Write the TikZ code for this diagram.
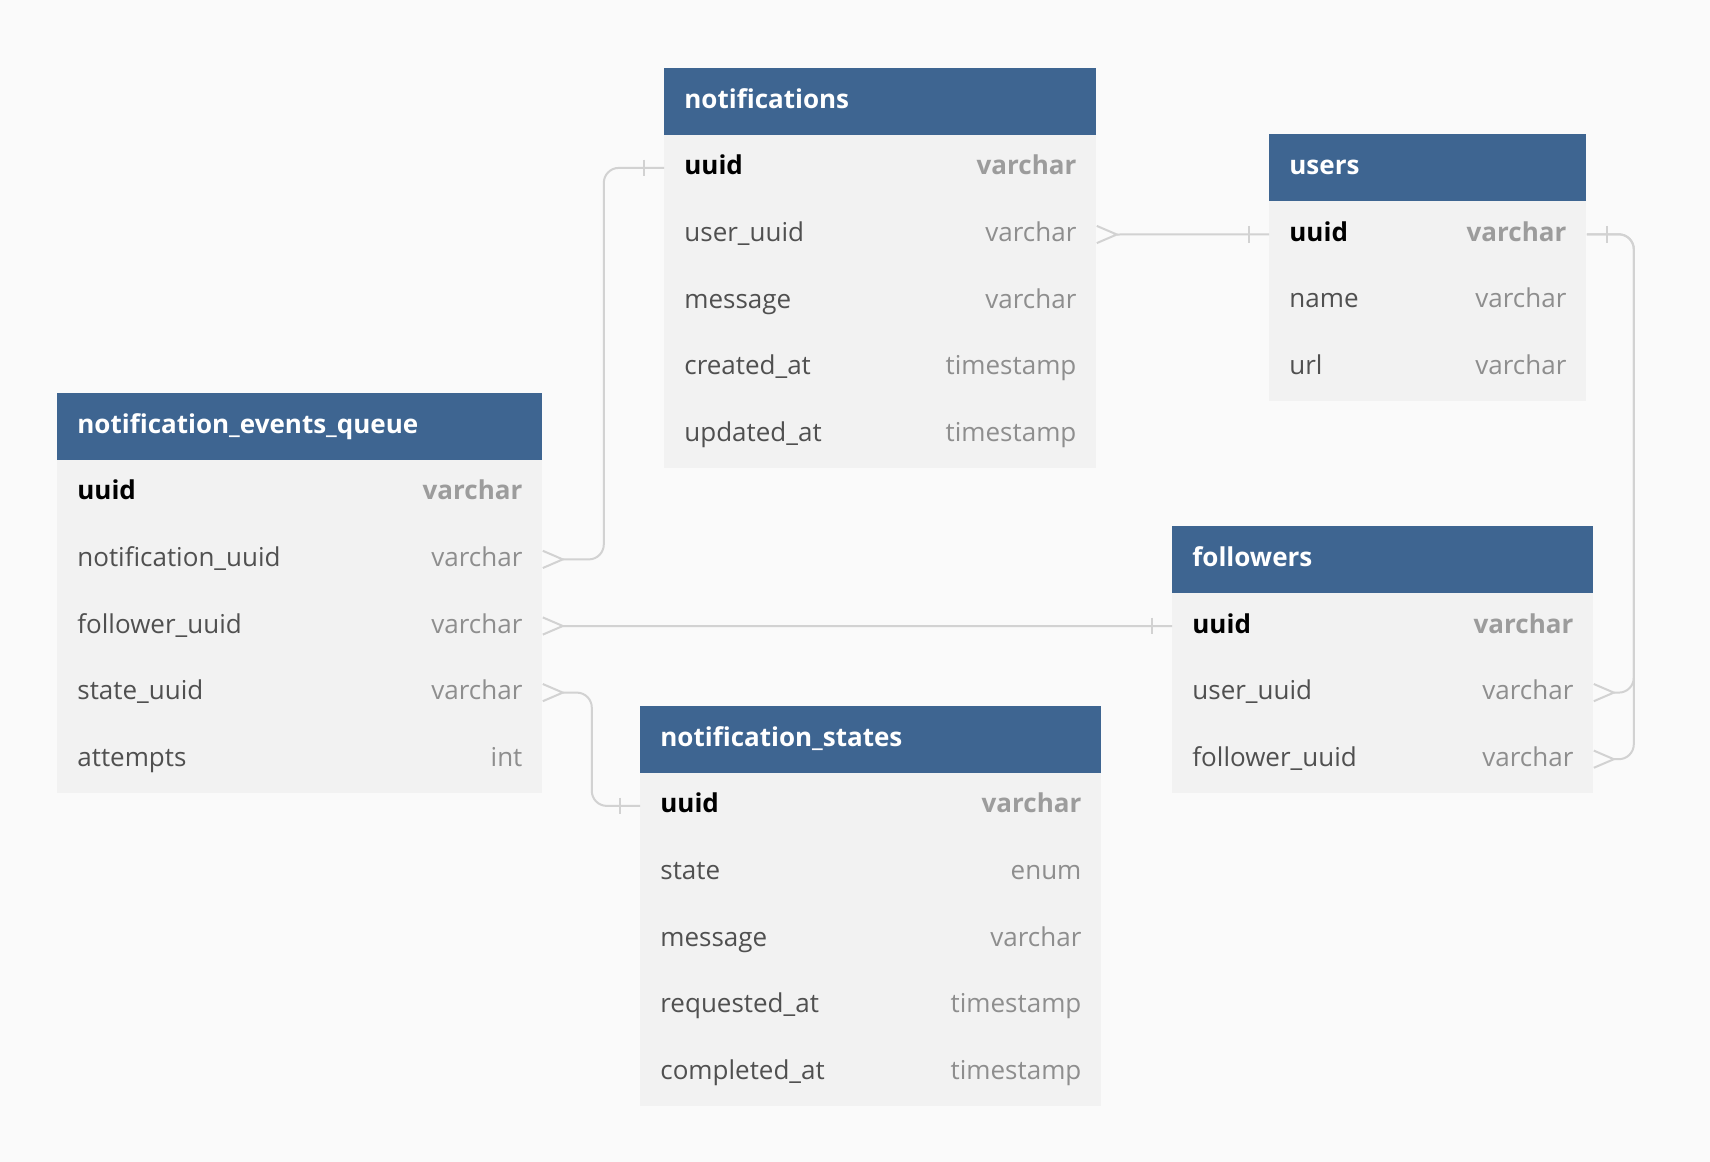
\documentclass[tikz,border=0pt]{standalone}
\usepackage{fontspec}
\setmainfont{Open Sans}
\usetikzlibrary{calc}
\definecolor{pagebg}{HTML}{FAFAFA}
\definecolor{hdrblue}{HTML}{3E6591}
\definecolor{rowbg}{HTML}{F2F2F2}
\definecolor{colname}{HTML}{505050}
\definecolor{coltype}{HTML}{8E8E8E}
\definecolor{pktype}{HTML}{9C9C9C}
\definecolor{linkgray}{HTML}{D2D2D2}

\tikzset{
  hdrbox/.style={fill=hdrblue, draw=none, minimum height=33.3pt, inner sep=0pt, anchor=north west},
  rowbox/.style={fill=rowbg, draw=none, minimum height=33.3pt, inner sep=0pt, anchor=north west},
  celltext/.style={inner sep=0pt, text height=10pt, text depth=3pt, font=\fontsize{13pt}{15pt}\selectfont},
  hdrtext/.style={celltext, anchor=west, text=white, font=\fontsize{13pt}{15pt}\selectfont\bfseries},
  nametext/.style={celltext, anchor=west, text=colname},
  typetext/.style={celltext, anchor=east, text=coltype},
  conn/.style={draw=linkgray, line width=1pt},
}

% one table: id, x, y (px), width (px), title, rows name/type (first row is the key)
\newcommand\erTable[6]{%
  \node[hdrbox, minimum width=#4*0.5pt] (#1) at (#2,#3) {};
  \node[hdrtext] (#1-title) at ([xshift=10pt]#1.west) {#5};
  \foreach \nm/\ty [count=\i] in {#6} {
    \node[rowbox, minimum width=#4*0.5pt] (#1-\i) at ($(#2,#3)+(0,66.6*\i)$) {};
    \ifnum\i=1
      \node[nametext, text=black, font=\fontsize{13pt}{15pt}\selectfont\bfseries] (#1-\i-name) at ([xshift=10pt]#1-\i.west) {\nm};
      \node[typetext, text=pktype, font=\fontsize{13pt}{15pt}\selectfont\bfseries] (#1-\i-type) at ([xshift=-10pt]#1-\i.east) {\ty};
    \else
      \node[nametext] (#1-\i-name) at ([xshift=10pt]#1-\i.west) {\nm};
      \node[typetext] (#1-\i-type) at ([xshift=-10pt]#1-\i.east) {\ty};
    \fi
  }%
}
% many end: crow's foot at the east side of a row
\newcommand\crowE[1]{%
  \draw[conn] ([yshift=4.3pt]#1.east) -- ([xshift=10pt]#1.east) -- ([yshift=-4.3pt]#1.east);}
% one end: bar 10pt off the west / east side of a row
\newcommand\barW[1]{%
  \draw[conn] ([xshift=-10pt,yshift=4.2pt]#1.west) -- ([xshift=-10pt,yshift=-4.2pt]#1.west);}
\newcommand\barE[1]{%
  \draw[conn] ([xshift=10pt,yshift=4.2pt]#1.east) -- ([xshift=10pt,yshift=-4.2pt]#1.east);}

\begin{document}
\begin{tikzpicture}[x=0.5pt, y=-0.5pt]
  \fill[pagebg] (0,0) rectangle (1710,1162);
  \useasboundingbox (0,0) rectangle (1710,1162);

  \erTable{notif}{664}{67.6}{432}{notifications}{uuid/varchar, user\_uuid/varchar, message/varchar, created\_at/timestamp, updated\_at/timestamp}
  \erTable{users}{1269}{134}{317}{users}{uuid/varchar, name/varchar, url/varchar}
  \erTable{neq}{57}{392.5}{485}{notification\_events\_queue}{uuid/varchar, notification\_uuid/varchar, follower\_uuid/varchar, state\_uuid/varchar, attempts/int}
  \erTable{fol}{1172}{525.7}{421}{followers}{uuid/varchar, user\_uuid/varchar, follower\_uuid/varchar}
  \erTable{nst}{640}{705.6}{461}{notification\_states}{uuid/varchar, state/enum, message/varchar, requested\_at/timestamp, completed\_at/timestamp}

  % notification_events_queue.notification_uuid > notifications.uuid
  \draw[conn, rounded corners=7.5pt] ([xshift=10pt]neq-2.east) -- ++(41,0) |- (notif-1.west);
  \crowE{neq-2} \barW{notif-1}

  % notifications.user_uuid > users.uuid
  \draw[conn] ([xshift=10pt]notif-2.east) -- (users-1.west);
  \crowE{notif-2} \barW{users-1}

  % followers.user_uuid / follower_uuid > users.uuid
  \draw[conn, rounded corners=7.5pt] (users-1.east) -- ++(47,0) |- ([xshift=10pt]fol-2.east);
  \draw[conn, rounded corners=7.5pt] (users-1.east) -- ++(47,0) |- ([xshift=10pt]fol-3.east);
  \barE{users-1} \crowE{fol-2} \crowE{fol-3}

  % notification_events_queue.follower_uuid > followers.uuid
  \draw[conn] ([xshift=10pt]neq-3.east) -- (fol-1.west);
  \crowE{neq-3} \barW{fol-1}

  % notification_events_queue.state_uuid > notification_states.uuid
  \draw[conn, rounded corners=7.5pt] ([xshift=10pt]neq-4.east) -- ++(29,0) |- (nst-1.west);
  \crowE{neq-4} \barW{nst-1}
\end{tikzpicture}
\end{document}
